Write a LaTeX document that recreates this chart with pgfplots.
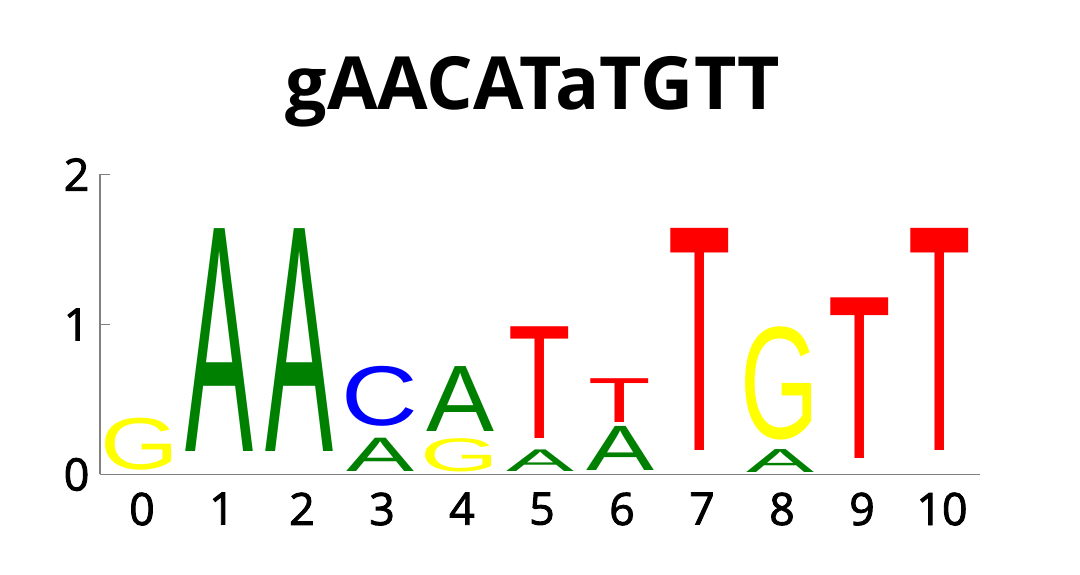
\documentclass[border=0pt]{standalone}
\usepackage{pgfplots}
\pgfplotsset{compat=1.18}
\usepackage{pgfplotstable}
\usepackage{graphicx}
\usepackage{fontspec}
\setmainfont{Open Sans}
\newfontfamily\tickfont{Open Sans}[FakeBold=2]
\newfontfamily\logofont{Liberation Sans}

\definecolor{lgA}{RGB}{0,128,0}
\definecolor{lgC}{RGB}{0,0,255}
\definecolor{lgG}{RGB}{255,255,0}
\definecolor{lgT}{RGB}{255,0,0}

% letters with side bearings trimmed, stretched to the given height
\newcommand\LA[1]{\resizebox*{20.4pt}{#1pt}{\logofont\textcolor{lgA}{A}}}
\newcommand\LC[1]{\resizebox*{19.8pt}{#1pt}{\logofont\kern-0.05em\textcolor{lgC}{C}\kern-0.05em}}
\newcommand\LG[1]{\resizebox*{20.5pt}{#1pt}{\logofont\kern-0.05em\textcolor{lgG}{G}\kern-0.052em}}
\newcommand\LT[1]{\resizebox*{17.4pt}{#1pt}{\logofont\kern-0.022em\textcolor{lgT}{T}\kern-0.022em}}

% position, bottom and top of each letter (bits)
\pgfplotstableread{
x y0 y1 L
0 0.030 0.377 G
1 0.152 1.637 A
2 0.152 1.637 A
3 0.019 0.241 A
3 0.319 0.719 C
4 0.019 0.241 G
4 0.286 0.719 A
5 0.019 0.163 A
5 0.241 0.986 T
6 0.025 0.319 A
6 0.345 0.637 T
7 0.157 1.637 T
8 0.015 0.168 A
8 0.230 0.985 G
9 0.108 1.179 T
10 0.157 1.637 T
}\logodata

\begin{document}
\begin{tikzpicture}
  \begin{axis}[
    name=ax,
    scale only axis,
    width=264pt, height=90pt,
    xmin=-0.5, xmax=10.5,
    ymin=0, ymax=2,
    xtick={0,1,...,10},
    ytick={0,1,2},
    axis lines*=left,
    axis line style={draw=gray, line width=0.45pt},
    tick align=inside,
    major tick length=3pt,
    x tick style={draw=none},
    y tick style={draw=gray, line width=0.45pt},
    /pgf/number format/assume math mode=true,
    tick label style={font=\tickfont\fontsize{13.4}{16}\selectfont, inner sep=0pt},
    xticklabel style={anchor=north, yshift=-5.25pt, xshift=0.6pt},
    yticklabel style={anchor=east, xshift=-3pt},
    title={gAACATaTGTT},
    title style={font=\fontsize{22}{24}\selectfont\bfseries, at={(0.5,1)},
      anchor=base, inner sep=0pt, yshift=13.35pt, xshift=-2.1pt},
    clip=false,
  ]
    \addplot[
      only marks, mark=none,
      point meta=explicit symbolic,
      visualization depends on={45*(\thisrow{y1}-\thisrow{y0}) \as \hh},
      nodes near coords={\csname L\pgfplotspointmeta\endcsname{\hh}},
      every node near coord/.append style={anchor=south, inner sep=0pt, outer sep=0pt},
    ] table[x=x, y=y0, meta=L] {\logodata};
  \end{axis}
  \pgfresetboundingbox
  \path[use as bounding box] ([xshift=-30pt,yshift=-30.15pt]ax.south west)
    rectangle ([xshift=30pt,yshift=52.35pt]ax.north east);
\end{tikzpicture}
\end{document}
